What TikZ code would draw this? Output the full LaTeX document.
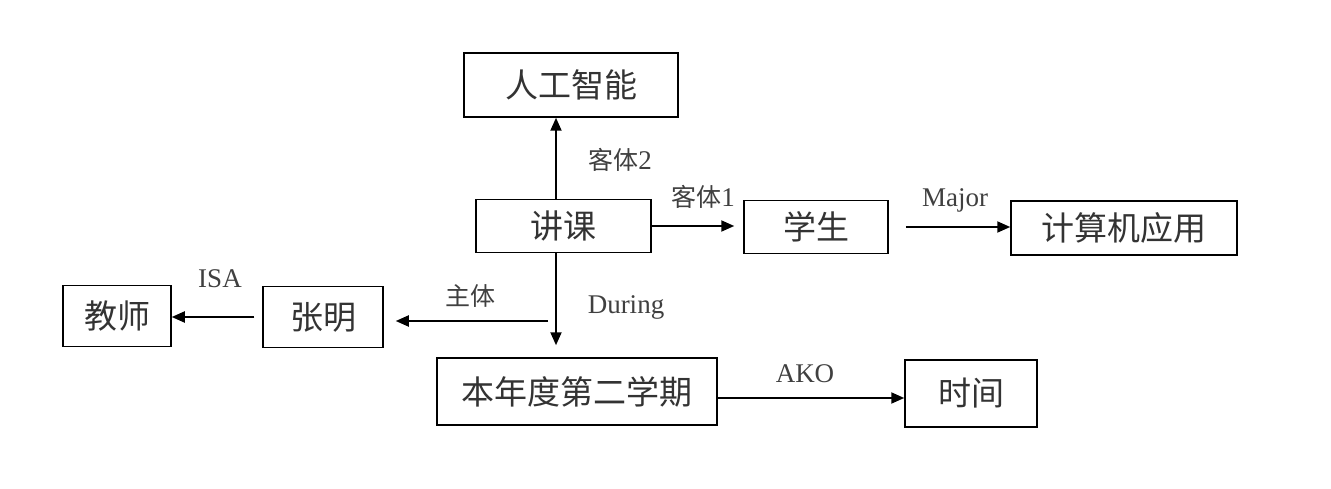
\documentclass[tikz,border=0pt]{standalone}
\usepackage{fontspec}
\setmainfont{Liberation Serif}
\newfontfamily\cjk{Noto Sans CJK SC}
\usetikzlibrary{arrows.meta}
\begin{document}
\begin{tikzpicture}[x=1pt,y=-1pt,
  box/.style={draw, line width=1.5pt, inner sep=0pt, text=black!80,
    font=\cjk\fontsize{33}{33}\selectfont},
  link/.style={line width=2pt, -{Triangle[length=13pt,width=11pt]}},
  lbl/.style={text=black!75, inner sep=0pt, font=\fontsize{27}{27}\selectfont},
  clbl/.style={lbl, font=\cjk\fontsize{25}{25}\selectfont}]
\fill[white] (0,0) rectangle (1331,489);
\useasboundingbox (0,0) rectangle (1331,489);

% concept boxes
\node[box, minimum width=214pt, minimum height=64pt] (ai) at (571,85) {人工智能};
\node[box, minimum width=175pt, minimum height=53pt] (jk) at (563.5,226) {讲课};
\node[box, minimum width=144pt, minimum height=53pt] (xs) at (816,227) {学生};
\node[box, minimum width=226pt, minimum height=54pt] (js) at (1124,228) {计算机应用};
\node[box, minimum width=108pt, minimum height=61pt] (teacher) at (117,316) {教师};
\node[box, minimum width=120pt, minimum height=61pt] (zm) at (323,317) {张明};
\node[box, minimum width=280pt, minimum height=67pt] (term) at (577,391.5) {本年度第二学期};
\node[box, minimum width=132pt, minimum height=67pt] (time) at (971,393.5) {时间};

% helper points for the vertical trunk and the branch to the agent
\coordinate (vx) at (556,0);
\coordinate (branch) at (548,321);

% relations
\draw[link] (vx |- jk.north) -- (vx |- ai.south);
\draw[link] (jk.east) -- ([xshift=-9pt]xs.west |- jk.east);
\draw[link] ([xshift=17pt]xs.east) -- (js.west |- xs.east);
\draw[link, shorten >=12pt] (vx |- jk.south) -- (vx |- term.north);
\draw[link, shorten >=12pt] (branch) -- (zm.east |- branch);
\draw[link] ([xshift=-8pt]zm.west) -- (teacher.east |- zm.west);
\draw[link] (term.east |- 0,398) -- (time.west |- 0,398);

% relation labels
\node[clbl] (l1) at (620,160) {客体{\rmfamily\fontsize{27}{27}\selectfont 2}};
\node[clbl] (l2) at (703,197) {客体{\rmfamily\fontsize{27}{27}\selectfont 1}};
\node[lbl] (l3) at (955,200) {Major};
\node[lbl] (l4) at (626,307) {During};
\node[clbl] (l5) at (470,296) {主体};
\node[lbl] (l6) at (220,279) {ISA};
\node[lbl] (l7) at (805,374) {AKO};
\end{tikzpicture}
\end{document}
